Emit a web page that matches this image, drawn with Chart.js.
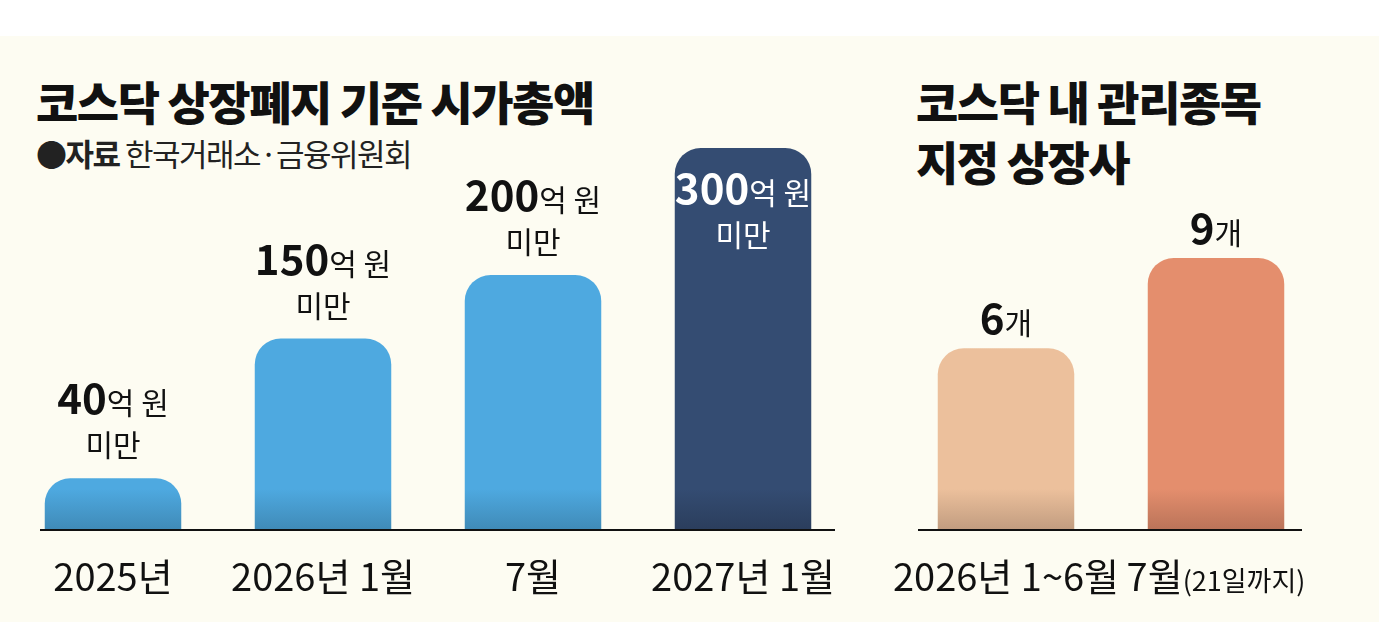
<!DOCTYPE html>
<html><head><meta charset="utf-8">
<script src="https://cdn.jsdelivr.net/npm/chart.js@4"></script>
<style>
body{margin:0;width:1379px;height:622px;background:#fff;font-family:"Noto Sans CJK KR",sans-serif;overflow:hidden;position:relative}
#bg{position:absolute;left:0;top:36px;width:1379px;height:586px;background:#fdfcf2}
.t{position:absolute;font-weight:900;font-size:46px;color:#111;letter-spacing:-1.5px;line-height:60px}
.s{position:absolute;font-size:31px;color:#222;letter-spacing:-1.5px}
canvas{position:absolute;top:0}
</style></head><body>
<div id="bg"></div>
<div class="t" style="left:36px;top:70px">코스닥 상장폐지 기준 시가총액</div>
<div class="s" style="left:36px;top:130px"><b>●자료</b> 한국거래소·금융위원회</div>
<div class="t" style="left:916px;top:70px">코스닥 내 관리종목<br>지정 상장사</div>
<div style="position:absolute;left:0;top:0;width:860px;height:622px"><canvas id="left"></canvas></div>
<div style="position:absolute;left:880px;top:0;width:460px;height:622px"><canvas id="right"></canvas></div>
<script>
const FONT = '"Noto Sans CJK KR", sans-serif';

const caps = [
  { label: '2025년', value: 40, color: '#4ea9e0', inside: false },
  { label: '2026년 1월', value: 150, color: '#4ea9e0', inside: false },
  { label: '7월', value: 200, color: '#4ea9e0', inside: false },
  { label: '2027년 1월', value: 300, color: '#344c72', inside: true }
];
const managed = [
  { label: '2026년 1~6월', value: 6, color: '#ecc09c' },
  { label: '7월', note: '(21일까지)', value: 9, color: '#e48e6d' }
];

function shade(hex, f){
  const n = parseInt(hex.slice(1), 16);
  const r = Math.round(((n >> 16) & 255) * f), g = Math.round(((n >> 8) & 255) * f), b = Math.round((n & 255) * f);
  return `rgb(${r},${g},${b})`;
}

function barFill(items){
  return (ctx) => {
    const { chart, dataIndex } = ctx;
    const a = chart.chartArea;
    if (!a) return items[dataIndex].color;
    const c = items[dataIndex].color;
    const g = chart.ctx.createLinearGradient(0, a.bottom - 40, 0, a.bottom);
    g.addColorStop(0, c);
    g.addColorStop(1, shade(c, 0.82));
    return g;
  };
}

function drawText(ctx, parts, cx, y, color){
  let w = 0;
  parts.forEach(p => { ctx.font = p[1]; w += ctx.measureText(p[0]).width; });
  let x = cx - w / 2;
  ctx.fillStyle = color;
  ctx.textAlign = 'left';
  ctx.textBaseline = 'alphabetic';
  parts.forEach(p => { ctx.font = p[1]; ctx.fillText(p[0], x, y); x += ctx.measureText(p[0]).width; });
}

function labelsPlugin(items, kind, lineX){
  return {
    id: 'labels_' + kind,
    afterDatasetsDraw(chart){
      const ctx = chart.ctx;
      const a = chart.chartArea;
      const meta = chart.getDatasetMeta(0);
      ctx.save();
      ctx.strokeStyle = '#111';
      ctx.lineWidth = 2;
      ctx.beginPath();
      ctx.moveTo(lineX[0], a.bottom + 1);
      ctx.lineTo(lineX[1], a.bottom + 1);
      ctx.stroke();
      meta.data.forEach((bar, i) => {
        const it = items[i];
        const big = `600 42px ${FONT}`, small = `400 30px ${FONT}`;
        if (kind === 'caps') {
          const col = it.inside ? '#fff' : '#111';
          const y0 = it.inside ? bar.y + 56 : bar.y - 64;
          drawText(ctx, [[String(it.value), big], ['억 원', small]], bar.x, y0, col);
          drawText(ctx, [['미만', small]], bar.x, y0 + 42, col);
        } else {
          drawText(ctx, [[String(it.value), big], ['개', small]], bar.x, bar.y - 14, '#111');
        }
        const parts = [[it.label, `400 38px ${FONT}`]];
        if (it.note) parts.push([it.note, `400 27px ${FONT}`]);
        drawText(ctx, parts, bar.x, a.bottom + 62, '#111');
      });
      ctx.restore();
    }
  };
}

function makeChart(id, items, max, padding, kind, lineX){
  return new Chart(document.getElementById(id), {
    type: 'bar',
    data: {
      labels: items.map(d => d.label),
      datasets: [{
        data: items.map(d => d.value),
        backgroundColor: barFill(items),
        borderRadius: { topLeft: 26, topRight: 26, bottomLeft: 0, bottomRight: 0 },
        borderSkipped: 'bottom',
        barPercentage: 0.65,
        categoryPercentage: 1
      }]
    },
    options: {
      responsive: true,
      maintainAspectRatio: false,
      animation: false,
      layout: { padding },
      plugins: { legend: { display: false }, tooltip: { enabled: false } },
      scales: {
        x: { display: false },
        y: { display: false, min: 0, max }
      }
    },
    plugins: [labelsPlugin(items, kind, lineX)]
  });
}

makeChart('left', caps, 300, { top: 148, bottom: 93, left: 8, right: 12 }, 'caps', [40, 835]);
makeChart('right', managed, 9, { top: 258, bottom: 93, left: 21, right: 19 }, 'managed', [38, 422]);
</script>
</body></html>
